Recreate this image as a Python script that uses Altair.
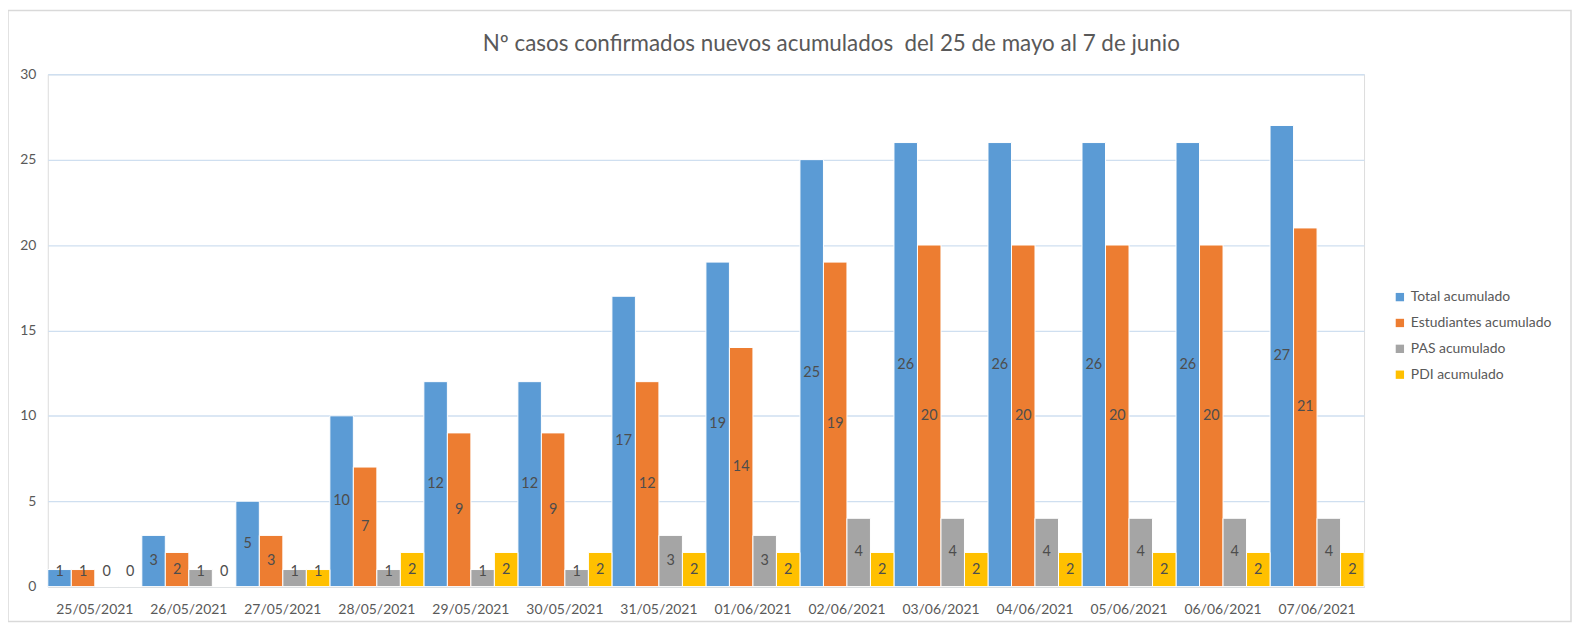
import altair as alt
import pandas as pd

dates = ["25/05/2021", "26/05/2021", "27/05/2021", "28/05/2021", "29/05/2021",
         "30/05/2021", "31/05/2021", "01/06/2021", "02/06/2021", "03/06/2021",
         "04/06/2021", "05/06/2021", "06/06/2021", "07/06/2021"]
series = ["Total acumulado", "Estudiantes acumulado", "PAS acumulado", "PDI acumulado"]
total = [1, 3, 5, 10, 12, 12, 17, 19, 25, 26, 26, 26, 26, 27]
estudiantes = [1, 2, 3, 7, 9, 9, 12, 14, 19, 20, 20, 20, 20, 21]
pas = [0, 1, 1, 1, 1, 1, 3, 3, 4, 4, 4, 4, 4, 4]
pdi = [0, 0, 1, 2, 2, 2, 2, 2, 2, 2, 2, 2, 2, 2]
colors = ["#5b9bd5", "#ed7d31", "#a5a5a5", "#ffc000"]
y_ticks = [0, 5, 10, 15, 20, 25, 30]
title = "Nº casos confirmados nuevos acumulados\u00a0 del 25 de mayo al 7 de junio"

rows = []
for s, vals in zip(series, [total, estudiantes, pas, pdi]):
    for d, v in zip(dates, vals):
        rows.append({"fecha": d, "serie": s, "valor": v})
df = pd.DataFrame(rows)

W, H = 1323, 515
FONT = "Lato"

x = alt.X("fecha:N", sort=dates,
          scale=alt.Scale(paddingInner=0, paddingOuter=0),
          axis=alt.Axis(title=None, labelAngle=0, ticks=False, domainColor="#d9d9d9",
                        domainWidth=1.5, labelColor="#595959", labelFontSize=14,
                        labelPadding=16, grid=False, labelFont=FONT))
xo = alt.XOffset("serie:N", sort=series, scale=alt.Scale(paddingInner=0, paddingOuter=0))

base = alt.Chart(df)

bars = base.mark_bar(stroke="white", strokeWidth=1).encode(
    x=x,
    xOffset=xo,
    y=alt.Y("valor:Q", scale=alt.Scale(domain=[0, 30]),
            axis=alt.Axis(title=None, values=y_ticks, domain=False, ticks=False,
                          labelColor="#595959", labelFontSize=14, labelPadding=12,
                          gridColor="#cfdff0", gridWidth=1.3, labelFont=FONT)),
    color=alt.Color("serie:N", scale=alt.Scale(domain=series, range=colors),
                    legend=alt.Legend(title=None, orient="none", legendX=1352, legendY=217,
                                      symbolType="square", symbolSize=70, symbolStrokeWidth=0,
                                      labelFontSize=14, labelColor="#595959", labelFont=FONT,
                                      rowPadding=12, padding=0)),
)

labels = base.transform_calculate(mid="max(datum.valor / 2, 0.87)").mark_text(
    fontSize=14.5, color="#4d4d4d", font=FONT, baseline="middle"
).encode(
    x=x,
    xOffset=xo,
    y=alt.Y("mid:Q"),
    text="valor:Q",
)

border = alt.Chart(pd.DataFrame({"k": [0]})).mark_rect(
    fill=None, stroke="#d9d9d9", strokeWidth=1.5
).encode(
    x=alt.value(-40), x2=alt.value(W + 208),
    y=alt.value(-64), y2=alt.value(H + 35),
)

chart = alt.layer(border, bars, labels).properties(
    width=W, height=H,
    title=alt.TitleParams(title, fontSize=22.5, color="#595959", font=FONT,
                          fontWeight="normal", anchor="middle", dx=126, offset=-46),
    padding={"left": 40, "top": 65, "right": 209, "bottom": 35},
    autosize=alt.AutoSizeParams(type="none"),
).configure_view(stroke=None).configure(background="white")

chart.save("out.html", embed_options={"renderer": "svg", "actions": False})
